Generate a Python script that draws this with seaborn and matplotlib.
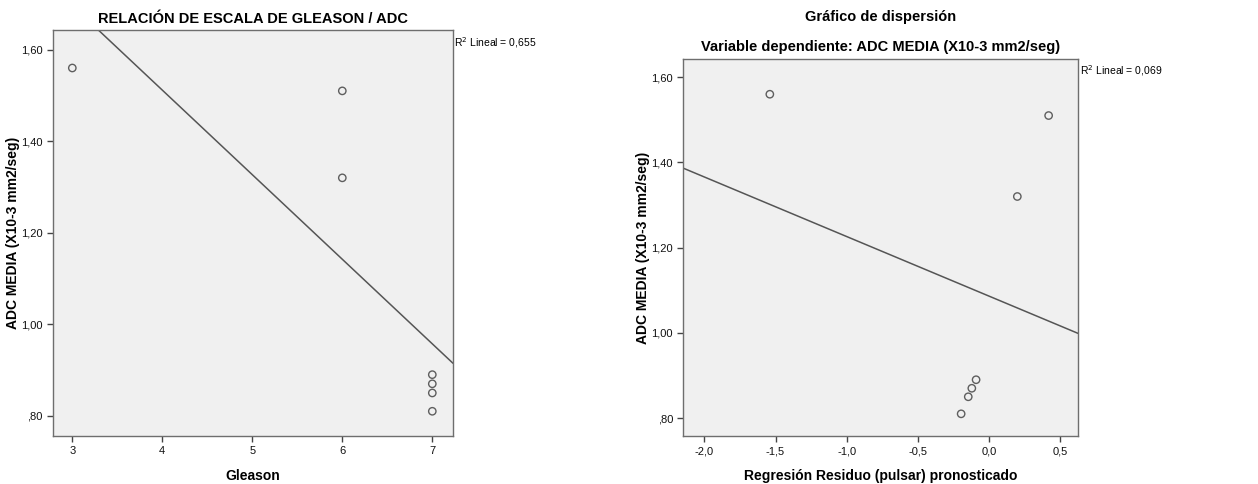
import matplotlib
matplotlib.use("Agg")
import matplotlib.pyplot as plt
import numpy as np
import pandas as pd
import seaborn as sns
from matplotlib.ticker import FuncFormatter, MultipleLocator

# data
gleason = [3, 6, 6, 7, 7, 7, 7]
adc_media = [1.56, 1.51, 1.32, 0.89, 0.87, 0.85, 0.81]
residuo_pronosticado = [-1.54, 0.42, 0.20, -0.09, -0.12, -0.145, -0.195]

left_title = "RELACIÓN DE ESCALA DE GLEASON / ADC"
right_title = "Gráfico de dispersión"
right_subtitle = "Variable dependiente: ADC MEDIA (X10-3 mm2/seg)"
y_label = "ADC MEDIA (X10-3 mm2/seg)"
left_xlabel = "Gleason"
right_xlabel = "Regresión Residuo (pulsar) pronosticado"

df_left = pd.DataFrame({"x": gleason, "y": adc_media})
df_right = pd.DataFrame({"x": residuo_pronosticado, "y": adc_media})

sns.set_style("ticks")
plt.rcParams["font.family"] = ["Liberation Sans", "DejaVu Sans"]
plt.rcParams["text.color"] = "black"
plt.rcParams["axes.labelcolor"] = "black"

fig = plt.figure(figsize=(12.58, 4.84), dpi=100)
ax1 = fig.add_axes([0.0421, 0.0992, 0.3180, 0.8388])
ax2 = fig.add_axes([0.5432, 0.0992, 0.3140, 0.7783])


def spss_num(v, decimals):
    s = f"{v:.{decimals}f}".replace(".", ",")
    if s.startswith("0,") and decimals == 2:
        s = s[1:]
    return s


def r2(x, y):
    return np.corrcoef(x, y)[0, 1] ** 2


def style_axes(ax, xfmt_dec):
    ax.set_facecolor("#f0f0f0")
    for sp in ax.spines.values():
        sp.set_color("#6e6e6e")
        sp.set_linewidth(1.0)
    ax.tick_params(axis="both", direction="out", length=4, width=1,
                   color="#444444", labelsize=8, labelcolor="#111111")
    ax.yaxis.set_major_locator(MultipleLocator(0.2))
    ax.yaxis.set_major_formatter(FuncFormatter(lambda v, p: spss_num(v, 2)))
    ax.xaxis.set_major_formatter(FuncFormatter(lambda v, p: spss_num(v, xfmt_dec)))
    ax.set_ylabel(y_label, fontsize=10, fontweight="bold", labelpad=1)


scatter_style = dict(s=28, facecolors="none", edgecolors="#3a3a3a", linewidths=1.0)
line_style = dict(color="#555555", linewidth=1.1)

# left panel
ax1.set_xlim(2.785, 7.23)
ax1.set_ylim(0.756, 1.643)
sns.regplot(data=df_left, x="x", y="y", ax=ax1, ci=None, truncate=False,
            scatter_kws=scatter_style, line_kws=line_style)
ax1.set_xlim(2.785, 7.23)
ax1.set_ylim(0.756, 1.643)
ax1.xaxis.set_major_locator(MultipleLocator(1))
style_axes(ax1, 0)
ax1.set_xlabel(left_xlabel, fontsize=10, fontweight="bold", labelpad=9)
ax1.set_title(left_title, fontsize=10.5, fontweight="bold", pad=5)
ax1.text(1.003, 0.97, f"R$^2$ Lineal = {r2(gleason, adc_media):.3f}".replace(".", ","),
         transform=ax1.transAxes, fontsize=7.5, va="center", ha="left")

# right panel
ax2.set_xlim(-2.148, 0.629)
ax2.set_ylim(0.758, 1.642)
sns.regplot(data=df_right, x="x", y="y", ax=ax2, ci=None, truncate=False,
            scatter_kws=scatter_style, line_kws=line_style)
ax2.set_xlim(-2.148, 0.629)
ax2.set_ylim(0.758, 1.642)
ax2.xaxis.set_major_locator(MultipleLocator(0.5))
style_axes(ax2, 1)
ax2.set_xlabel(right_xlabel, fontsize=10, fontweight="bold", labelpad=9)
ax2.set_title(right_title + "\n\n" + right_subtitle, fontsize=10.5,
              fontweight="bold", pad=6, linespacing=1.1)
ax2.text(1.003, 0.97, f"R$^2$ Lineal = {r2(residuo_pronosticado, adc_media):.3f}".replace(".", ","),
         transform=ax2.transAxes, fontsize=7.5, va="center", ha="left")

fig.savefig("out.png", dpi=100, facecolor="white")
